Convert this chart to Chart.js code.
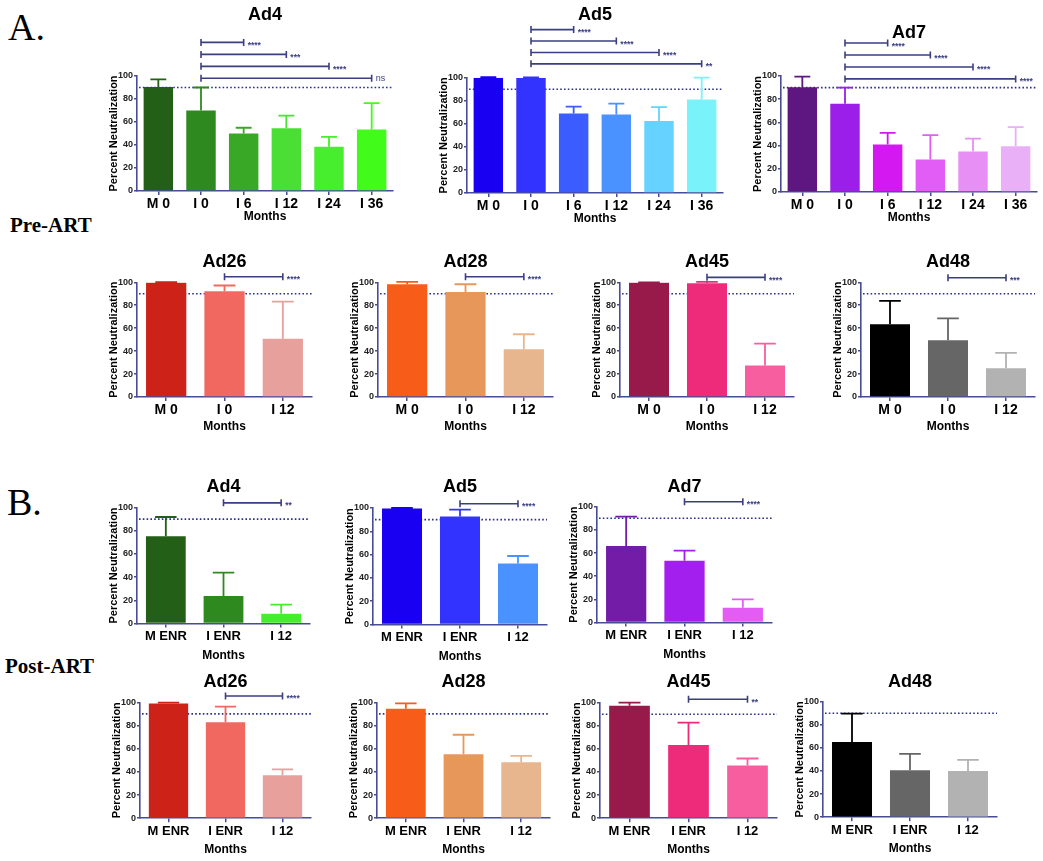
<!DOCTYPE html>
<html>
<head>
<meta charset="utf-8">
<script src="https://cdn.jsdelivr.net/npm/chart.js@4"></script>
<style>
    html, body { margin: 0; padding: 0; background: #fff; overflow: hidden; }
    body { width: 1043px; height: 861px; position: relative; }
    .panel { position: absolute; }
    .tag { position: absolute; font-family: 'Liberation Serif', 'Times New Roman', serif; color: #000; line-height: 1; white-space: nowrap; }
</style>
</head>
<body>
<div class="tag" style="left:8px; top:8px; font-size:38px;">A.</div>
<div class="tag" style="left:10px; top:215px; font-size:21px; font-weight:bold;">Pre-ART</div>
<div class="tag" style="left:7px; top:483px; font-size:38px;">B.</div>
<div class="tag" style="left:5px; top:656px; font-size:21px; font-weight:bold;">Post-ART</div>

<script>
// --- Données (moyenne + écart-type, % de neutralisation) ---
const preMonthsSix = ['M 0', 'I 0', 'I 6', 'I 12', 'I 24', 'I 36'];
const preMonthsThree = ['M 0', 'I 0', 'I 12'];
const postMonths = ['M ENR', 'I ENR', 'I 12'];
const yTickValues = [0, 20, 40, 60, 80, 100];
const neutralizationThreshold = 90;

// Pre-ART
const preAd4Mean = [90.5, 70, 50, 54.5, 38.5, 53.5];
const preAd4Sd = [6.5, 20, 5, 11, 8.5, 23];
const preAd4Sig = [[1, 2, '****'], [1, 3, '***'], [1, 4, '****'], [1, 5, 'ns']];

const preAd5Mean = [100, 99.7, 69, 68, 62.5, 81];
const preAd5Sd = [0.5, 0.5, 6, 9.5, 12, 19];
const preAd5Sig = [[1, 2, '****'], [1, 3, '****'], [1, 4, '****'], [1, 5, '**']];

const preAd7Mean = [90.2, 76, 41, 28, 35, 39.5];
const preAd7Sd = [9.2, 14, 10, 21, 11, 16.5];
const preAd7Sig = [[1, 2, '****'], [1, 3, '****'], [1, 4, '****'], [1, 5, '****']];

const preAd26Mean = [99.6, 92.2, 50.7];
const preAd26Sd = [0.5, 5, 32.5];
const preAd26Sig = [[1, 2, '****']];

const preAd28Mean = [98.3, 91.6, 41.7];
const preAd28Sd = [2, 6.7, 13];
const preAd28Sig = [[1, 2, '****']];

const preAd45Mean = [99.6, 99.1, 27.5];
const preAd45Sd = [0.3, 1.2, 19];
const preAd45Sig = [[1, 2, '****']];

const preAd48Mean = [63.5, 49.5, 25];
const preAd48Sd = [20.3, 19, 13.5];
const preAd48Sig = [[1, 2, '***']];

// Post-ART
const postAd4Mean = [75.3, 23.6, 8.3];
const postAd4Sd = [16.5, 20.3, 8];
const postAd4Sig = [[1, 2, '**']];

const postAd5Mean = [99.5, 92.8, 52.4];
const postAd5Sd = [0.5, 5.8, 6.4];
const postAd5Sig = [[1, 2, '****']];

const postAd7Mean = [66, 53.3, 12.7];
const postAd7Sd = [25.4, 8.7, 7.2];
const postAd7Sig = [[1, 2, '****']];

const postAd26Mean = [99, 82.7, 37];
const postAd26Sd = [0.8, 13.5, 5.2];
const postAd26Sig = [[1, 2, '****']];

const postAd28Mean = [94.5, 55.2, 48.3];
const postAd28Sd = [4.6, 16.8, 5.5];
const postAd28Sig = [];

const postAd45Mean = [97.4, 63.3, 45.7];
const postAd45Sd = [2.6, 19.4, 6];
const postAd45Sig = [[1, 2, '**']];

const postAd48Mean = [65.2, 40.6, 40];
const postAd48Sd = [24.4, 14.2, 9.6];
const postAd48Sig = [];

// --- Style ---
const FONT = "'Liberation Sans', Arial, Helvetica, sans-serif";
const AXIS_COLOR = '#474c97';
const REF_COLOR = '#2b308c';
const BRACKET_COLOR = '#3a3f82';
const YW = 30;      // largeur réservée à l'axe Y
const PAD_R = 6;

const greens6 = ['#245f18', '#2e8a1f', '#3aa827', '#4bdf35', '#47ee2d', '#41fb1b'];
const blues6 = ['#1a00f2', '#3333ff', '#3b5cff', '#4a92ff', '#66d2ff', '#7af2fa'];
const purples6 = ['#5e1680', '#9b1fe8', '#d418f2', '#e25df5', '#e88ff5', '#e9b0f8'];
const reds3 = ['#cc2218', '#f06860', '#e8a09c'];
const oranges3 = ['#f75c18', '#e8975a', '#e8b68e'];
const pinks3 = ['#981a4b', '#ee2a7b', '#f75e9f'];
const greys3 = ['#000000', '#666666', '#b2b2b2'];

// Positions des panneaux (zone de tracé en pixels)
const panels = [
    { title: 'Ad4', labels: preMonthsSix, mean: preAd4Mean, sd: preAd4Sd, sig: preAd4Sig, colors: greens6,
      ax: 137, ar: 393, at: 76, ab: 191, ty: 15, xh: 33, tick: 14, sigBase: 98, sigStep: 10.4 },
    { title: 'Ad5', labels: preMonthsSix, mean: preAd5Mean, sd: preAd5Sd, sig: preAd5Sig, colors: blues6,
      ax: 467, ar: 723, at: 77.7, ab: 192.7, ty: 15, xh: 33, tick: 14, sigBase: 112, sigStep: 9.9 },
    { title: 'Ad7', labels: preMonthsSix, mean: preAd7Mean, sd: preAd7Sd, sig: preAd7Sig, colors: purples6,
      ax: 781, ar: 1037, at: 76, ab: 191.7, ty: 33, xh: 33, tick: 14, sigBase: 97.5, sigStep: 10.3 },

    { title: 'Ad26', labels: preMonthsThree, mean: preAd26Mean, sd: preAd26Sd, sig: preAd26Sig, colors: reds3,
      ax: 137, ar: 312, at: 282.3, ab: 397.3, ty: 262, xh: 37, tick: 14, sigBase: 104.9 },
    { title: 'Ad28', labels: preMonthsThree, mean: preAd28Mean, sd: preAd28Sd, sig: preAd28Sig, colors: oranges3,
      ax: 378, ar: 553, at: 282.3, ab: 397.3, ty: 262, xh: 37, tick: 14, sigBase: 104.9 },
    { title: 'Ad45', labels: preMonthsThree, mean: preAd45Mean, sd: preAd45Sd, sig: preAd45Sig, colors: pinks3,
      ax: 620, ar: 794, at: 282.3, ab: 397.3, ty: 262, xh: 37, tick: 14, sigBase: 104.3 },
    { title: 'Ad48', labels: preMonthsThree, mean: preAd48Mean, sd: preAd48Sd, sig: preAd48Sig, colors: greys3,
      ax: 861, ar: 1035, at: 282.3, ab: 397.3, ty: 262, xh: 37, tick: 14, sigBase: 104 },

    { title: 'Ad4', labels: postMonths, mean: postAd4Mean, sd: postAd4Sd, sig: postAd4Sig, colors: ['#245f18', '#2e8a1f', '#44ee2a'],
      ax: 137, ar: 310, at: 507.5, ab: 623, ty: 487, xh: 39.5, tick: 13, sigBase: 104 },
    { title: 'Ad5', labels: postMonths, mean: postAd5Mean, sd: postAd5Sd, sig: postAd5Sig, colors: ['#1a00f2', '#3333ff', '#4a92ff'],
      ax: 373, ar: 547, at: 508, ab: 624, ty: 487, xh: 39.5, tick: 13, sigBase: 103.7 },
    { title: 'Ad7', labels: postMonths, mean: postAd7Mean, sd: postAd7Sd, sig: postAd7Sig, colors: ['#721ca8', '#a21fee', '#e35df5'],
      ax: 597, ar: 772, at: 506.7, ab: 622.3, ty: 487, xh: 39.5, tick: 13, sigBase: 104.3 },

    { title: 'Ad26', labels: postMonths, mean: postAd26Mean, sd: postAd26Sd, sig: postAd26Sig, colors: reds3,
      ax: 140, ar: 311, at: 702.3, ab: 817.7, ty: 682, xh: 38.8, tick: 13, sigBase: 105.5 },
    { title: 'Ad28', labels: postMonths, mean: postAd28Mean, sd: postAd28Sd, sig: postAd28Sig, colors: oranges3,
      ax: 377, ar: 550, at: 702.3, ab: 817.7, ty: 682, xh: 38.8, tick: 13, sigBase: 105 },
    { title: 'Ad45', labels: postMonths, mean: postAd45Mean, sd: postAd45Sd, sig: postAd45Sig, colors: pinks3,
      ax: 600, ar: 777, at: 702.7, ab: 818, ty: 682, xh: 38.8, tick: 13, sigBase: 103 },
    { title: 'Ad48', labels: postMonths, mean: postAd48Mean, sd: postAd48Sd, sig: postAd48Sig, colors: greys3,
      ax: 823, ar: 997, at: 701.7, ab: 816.7, ty: 682, xh: 38.8, tick: 13, sigBase: 104 }
];

// Ligne pointillée du seuil de 90 %
function refLinePlugin() {
    return {
        id: 'refLine',
        beforeDatasetsDraw(chart) {
            const { ctx, chartArea, scales: { y } } = chart;
            const py = y.getPixelForValue(neutralizationThreshold);
            ctx.save();
            ctx.strokeStyle = REF_COLOR;
            ctx.lineWidth = 1.6;
            ctx.setLineDash([1.6, 2.2]);
            ctx.beginPath();
            ctx.moveTo(chartArea.left + 2, py);
            ctx.lineTo(chartArea.right, py);
            ctx.stroke();
            ctx.restore();
        }
    };
}

// Barres d'erreur (écart-type, vers le haut uniquement)
function errorBarPlugin(panel) {
    return {
        id: 'errorBars',
        afterDatasetsDraw(chart) {
            const { ctx, scales: { y } } = chart;
            const meta = chart.getDatasetMeta(0);
            ctx.save();
            ctx.lineWidth = 1.8;
            meta.data.forEach((bar, i) => {
                const top = y.getPixelForValue(panel.mean[i] + panel.sd[i]);
                const half = bar.width * 0.27;
                ctx.strokeStyle = panel.colors[i];
                ctx.beginPath();
                ctx.moveTo(bar.x, bar.y);
                ctx.lineTo(bar.x, top);
                ctx.moveTo(bar.x - half, top);
                ctx.lineTo(bar.x + half, top);
                ctx.stroke();
            });
            ctx.restore();
        }
    };
}

// Crochets de significativité au-dessus du graphique
function bracketPlugin(panel) {
    return {
        id: 'brackets',
        afterDraw(chart) {
            const { ctx, scales: { x, y } } = chart;
            const n = panel.sig.length;
            ctx.save();
            ctx.strokeStyle = BRACKET_COLOR;
            ctx.fillStyle = BRACKET_COLOR;
            ctx.lineWidth = 1.6;
            panel.sig.forEach(([from, to, label], i) => {
                const py = y.getPixelForValue(panel.sigBase + (n - 1 - i) * (panel.sigStep || 0));
                const x1 = x.getPixelForValue(from);
                const x2 = x.getPixelForValue(to);
                ctx.beginPath();
                ctx.moveTo(x1, py); ctx.lineTo(x2, py);
                ctx.moveTo(x1, py - 3.5); ctx.lineTo(x1, py + 3.5);
                ctx.moveTo(x2, py - 3.5); ctx.lineTo(x2, py + 3.5);
                ctx.stroke();
                if (label === 'ns') {
                    ctx.font = `9px ${FONT}`;
                    ctx.textBaseline = 'middle';
                    ctx.fillText(label, x2 + 4, py);
                } else {
                    ctx.font = `bold 8.5px ${FONT}`;
                    ctx.textBaseline = 'alphabetic';
                    ctx.fillText(label, x2 + 4, py + 5.5);
                }
            });
            ctx.restore();
        }
    };
}

function makePanel(panel) {
    const left = panel.ax - YW;
    const top = Math.round(panel.ty - 13);
    const width = panel.ar - panel.ax + YW + PAD_R;
    const height = Math.round(panel.ab + panel.xh) - top;
    const lineH = 18 * 1.2;

    const wrap = document.createElement('div');
    wrap.className = 'panel';
    wrap.style.left = left + 'px';
    wrap.style.top = top + 'px';
    const canvas = document.createElement('canvas');
    canvas.width = width;
    canvas.height = height;
    wrap.appendChild(canvas);
    document.body.appendChild(wrap);

    return new Chart(canvas, {
        type: 'bar',
        data: {
            labels: panel.labels,
            datasets: [{
                data: panel.mean,
                backgroundColor: panel.colors,
                borderWidth: 0,
                barPercentage: 0.69,
                categoryPercentage: 1
            }]
        },
        options: {
            responsive: false,
            animation: false,
            devicePixelRatio: 1,
            layout: { padding: { left: 0, right: PAD_R, top: 0, bottom: 0 } },
            plugins: {
                legend: { display: false },
                tooltip: { enabled: false },
                title: {
                    display: true,
                    text: panel.title,
                    fullSize: false,
                    color: '#000',
                    font: { family: FONT, size: 18, weight: 'bold' },
                    padding: { top: panel.ty - lineH / 2 - top, bottom: panel.at - panel.ty - lineH / 2 }
                }
            },
            scales: {
                x: {
                    offset: true,
                    grid: { drawOnChartArea: false, offset: false, tickLength: 4, color: AXIS_COLOR, lineWidth: 1.5 },
                    border: { color: AXIS_COLOR, width: 1.6 },
                    ticks: {
                        color: '#000',
                        font: { family: FONT, size: panel.tick, weight: 'bold' },
                        padding: 1,
                        maxRotation: 0,
                        autoSkip: false
                    },
                    title: {
                        display: true,
                        text: 'Months',
                        color: '#000',
                        font: { family: FONT, size: 12, weight: 'bold' },
                        padding: 0
                    },
                    afterFit: s => { s.height = panel.xh; }
                },
                y: {
                    min: 0,
                    max: 100,
                    afterBuildTicks: s => { s.ticks = yTickValues.map(v => ({ value: v })); },
                    grid: { drawOnChartArea: false, tickLength: 3, color: AXIS_COLOR, lineWidth: 1.5 },
                    border: { color: AXIS_COLOR, width: 1.6 },
                    ticks: {
                        color: '#222',
                        font: { family: FONT, size: 9, weight: 'bold' },
                        padding: 1
                    },
                    title: {
                        display: true,
                        text: 'Percent Neutralization',
                        color: '#000',
                        font: { family: FONT, size: 11, weight: 'bold' },
                        padding: { top: 0, bottom: 0 }
                    },
                    afterFit: s => { s.width = YW; }
                }
            }
        },
        plugins: [refLinePlugin(), errorBarPlugin(panel), bracketPlugin(panel)]
    });
}

panels.forEach(makePanel);
</script>
</body>
</html>
